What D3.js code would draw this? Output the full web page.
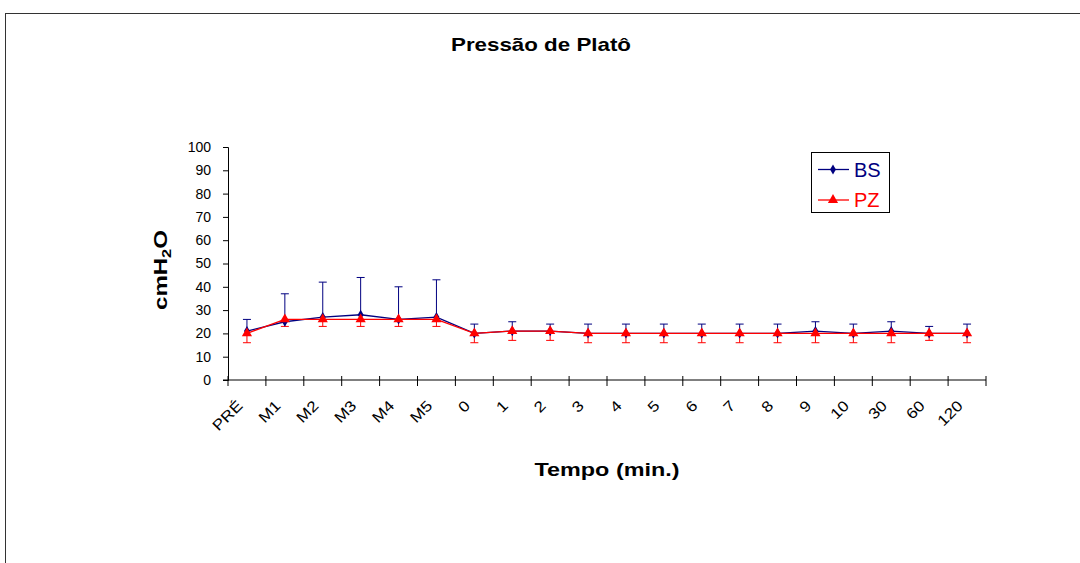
<!DOCTYPE html>
<html>
<head>
<meta charset="utf-8">
<script src="https://cdn.jsdelivr.net/npm/d3@7"></script>
<style>
  body { margin: 0; background: #fff; }
  text { font-family: "Liberation Sans", Arial, sans-serif; }
</style>
</head>
<body>
<div id="wrapper"></div>
<script>
// Data
const categories = ["PRÉ", "M1", "M2", "M3", "M4", "M5", "0", "1", "2", "3", "4", "5", "6", "7", "8", "9", "10", "30", "60", "120"]
const bsMean  = [21, 25, 27, 28, 26, 27, 20, 21, 21, 20, 20, 20, 20, 20, 20, 21, 20, 21, 20, 20]
const bsUpper = [26, 37, 42, 44, 40, 43, 24, 25, 24, 24, 24, 24, 24, 24, 24, 25, 24, 25, 23, 24]
const pzMean  = [20, 26, 26, 26, 26, 26, 20, 21, 21, 20, 20, 20, 20, 20, 20, 20, 20, 20, 20, 20]
const pzLower = [16, 23, 23, 23, 23, 23, 16, 17, 17, 16, 16, 16, 16, 16, 16, 16, 16, 16, 17, 16]
const yTicks = d3.range(0, 101, 10)

function drawChart() {
  let dimensions = {
    width: 1080,
    height: 563,
    margin: { top: 147, right: 94, bottom: 183, left: 228 }
  }
  dimensions.boundedWidth = dimensions.width - dimensions.margin.left - dimensions.margin.right
  dimensions.boundedHeight = dimensions.height - dimensions.margin.top - dimensions.margin.bottom

  const svg = d3.select("#wrapper").append("svg")
    .attr("width", dimensions.width)
    .attr("height", dimensions.height)

  // outer frame (runs off the right and bottom)
  svg.append("rect")
    .attr("x", 5.5).attr("y", 13.5)
    .attr("width", 1100).attr("height", 600)
    .attr("fill", "none").attr("stroke", "#333").attr("stroke-width", 1)

  svg.append("text")
    .attr("x", 541).attr("y", 51)
    .attr("text-anchor", "middle")
    .attr("font-size", 19).attr("font-weight", "bold")
    .attr("textLength", 180).attr("lengthAdjust", "spacingAndGlyphs")
    .text("Pressão de Platô")

  const bounds = svg.append("g")
    .attr("transform", `translate(${dimensions.margin.left}, ${dimensions.margin.top})`)

  const xScale = d3.scaleBand()
    .domain(categories)
    .range([0, dimensions.boundedWidth])

  const yScale = d3.scaleLinear()
    .domain([0, 100])
    .range([dimensions.boundedHeight, 0])

  const cx = d => xScale(d) + xScale.bandwidth() / 2

  // y axis
  const yAxis = bounds.append("g")
    .call(d3.axisLeft(yScale).tickValues(yTicks).tickSize(5).tickPadding(12))
  yAxis.select(".domain").attr("stroke", "#000")
  yAxis.selectAll("text").attr("font-size", 14).attr("fill", "#000")
    .attr("font-family", "Liberation Sans, Arial, sans-serif")

  // x axis with crossing ticks
  const xAxis = bounds.append("g")
    .attr("transform", `translate(0, ${dimensions.boundedHeight})`)
  xAxis.append("line")
    .attr("x1", -5).attr("x2", dimensions.boundedWidth)
    .attr("stroke", "#000")
  xAxis.selectAll(".xtick")
    .data(d3.range(categories.length + 1))
    .join("line")
    .attr("class", "xtick")
    .attr("x1", i => i * xScale.step()).attr("x2", i => i * xScale.step())
    .attr("y1", -4).attr("y2", 6)
    .attr("stroke", "#000")
  xAxis.selectAll(".xlabel")
    .data(categories)
    .join("text")
    .attr("class", "xlabel")
    .attr("transform", d => `translate(${cx(d) - 7}, 23) rotate(-45) scale(1.15, 1)`)
    .attr("text-anchor", "end")
    .attr("dy", "0.35em")
    .attr("font-size", 15)
    .text(d => d)

  // axis titles
  svg.append("text")
    .attr("transform", "translate(167, 270) rotate(-90)")
    .attr("text-anchor", "middle")
    .attr("font-size", 19).attr("font-weight", "bold")
    .attr("textLength", 80).attr("lengthAdjust", "spacingAndGlyphs")
    .call(t => {
      t.append("tspan").text("cmH")
      t.append("tspan").attr("font-size", 13).attr("dy", 4).text("2")
      t.append("tspan").attr("dy", -4).text("O")
    })

  svg.append("text")
    .attr("x", 607).attr("y", 476)
    .attr("text-anchor", "middle")
    .attr("font-size", 19).attr("font-weight", "bold")
    .attr("textLength", 145).attr("lengthAdjust", "spacingAndGlyphs")
    .text("Tempo (min.)")

  const bsColor = "#000080"
  const pzColor = "#ff0000"
  const cap = 4

  // BS error bars (upper)
  const bsErr = bounds.append("g").attr("stroke", bsColor).attr("stroke-width", 1)
  categories.forEach((c, i) => {
    bsErr.append("line").attr("x1", cx(c)).attr("x2", cx(c))
      .attr("y1", yScale(bsMean[i])).attr("y2", yScale(bsUpper[i]))
    bsErr.append("line").attr("x1", cx(c) - cap).attr("x2", cx(c) + cap)
      .attr("y1", yScale(bsUpper[i])).attr("y2", yScale(bsUpper[i]))
  })

  // PZ error bars (lower)
  const pzErr = bounds.append("g").attr("stroke", pzColor).attr("stroke-width", 1)
  categories.forEach((c, i) => {
    pzErr.append("line").attr("x1", cx(c)).attr("x2", cx(c))
      .attr("y1", yScale(pzMean[i])).attr("y2", yScale(pzLower[i]))
    pzErr.append("line").attr("x1", cx(c) - cap).attr("x2", cx(c) + cap)
      .attr("y1", yScale(pzLower[i])).attr("y2", yScale(pzLower[i]))
  })

  const line = d3.line().x((d, i) => cx(categories[i])).y(d => yScale(d))

  bounds.append("path").datum(bsMean)
    .attr("d", line).attr("fill", "none").attr("stroke", bsColor).attr("stroke-width", 1.3)
  bounds.selectAll(".bs-pt").data(bsMean).join("path")
    .attr("class", "bs-pt")
    .attr("transform", (d, i) => `translate(${cx(categories[i])}, ${yScale(d)})`)
    .attr("d", d3.symbol(d3.symbolDiamond, 30))
    .attr("fill", bsColor)

  bounds.append("path").datum(pzMean)
    .attr("d", line).attr("fill", "none").attr("stroke", pzColor).attr("stroke-width", 1.3)
  bounds.selectAll(".pz-pt").data(pzMean).join("path")
    .attr("class", "pz-pt")
    .attr("transform", (d, i) => `translate(${cx(categories[i])}, ${yScale(d)})`)
    .attr("d", d3.symbol(d3.symbolTriangle, 45))
    .attr("fill", pzColor)

  // legend
  const legend = svg.append("g")
  legend.append("rect")
    .attr("x", 811.5).attr("y", 152.5).attr("width", 78).attr("height", 60)
    .attr("fill", "#fff").attr("stroke", "#000")
  const items = [
    { name: "BS", color: bsColor, sym: d3.symbolDiamond, size: 30, y: 169.5 },
    { name: "PZ", color: pzColor, sym: d3.symbolTriangle, size: 45, y: 200 }
  ]
  items.forEach(it => {
    legend.append("line").attr("x1", 818).attr("x2", 849)
      .attr("y1", it.y).attr("y2", it.y).attr("stroke", it.color).attr("stroke-width", 1.3)
    legend.append("path").attr("transform", `translate(833, ${it.y})`)
      .attr("d", d3.symbol(it.sym, it.size)).attr("fill", it.color)
    legend.append("text").attr("x", 854).attr("y", it.y + 7)
      .attr("font-size", 20).attr("fill", it.color).text(it.name)
  })
}
drawChart()
</script>
</body>
</html>
